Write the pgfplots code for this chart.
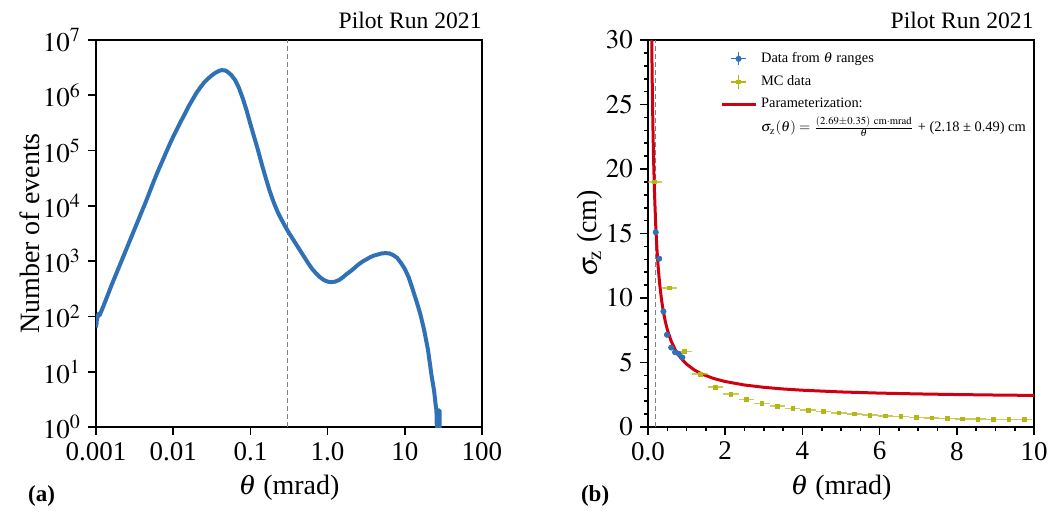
\documentclass[border=0pt]{standalone}
\usepackage{mathptmx}
\usepackage{fontspec}
\setmainfont{Liberation Serif}
\usepackage{pgfplots}
\pgfplotsset{compat=1.18}
\definecolor{cblue}{RGB}{48,113,182}
\definecolor{colive}{RGB}{180,182,20}
\definecolor{cred}{RGB}{208,0,16}
\begin{document}
\begin{tikzpicture}
\useasboundingbox (0,0) rectangle (527pt,255.5pt);
\pgfplotsset{
  every axis/.append style={
    scale only axis, width=193pt, height=193.5pt,
    axis line style={line width=0.9pt},
    tick align=outside, tick pos=left,
    major tick length=4pt, minor tick length=2pt,
    tick style={black, line width=0.8pt},
    tick label style={font=\fontsize{13.5}{14}\selectfont},
    label style={font=\fontsize{14}{16}\selectfont},
    clip mode=individual,
  }
}
% ---------------- left panel ----------------
\begin{axis}[at={(48pt,42pt)}, anchor=south west,
  xmode=log, ymode=log, log basis x=10, log basis y=10,
  xmin=0.001, xmax=100, ymin=1, ymax=1e7,
  xtick={0.001,0.01,0.1,1,10,100}, xticklabels={0.001,0.01,0.1,1.0,10,100},
  ytick={1,10,100,1000,10000,100000,1000000,10000000},
  xminorticks=false, yminorticks=false,
  xlabel={$\theta$ (mrad)}, ylabel={Number of events},
  xlabel style={at={(rel axis cs:0.5,-0.158)}, anchor=center},
  ylabel style={at={(rel axis cs:-0.171,0.5)}, anchor=center},
]
\addplot[gray, line width=0.5pt, dash pattern=on 2.5pt off 1.5pt] coordinates {(0.3,1) (0.3,1e7)};
\addplot[cblue, line width=2pt, line join=round] coordinates {
(0.001,63) (0.001008,95) (0.001016,72) (0.001025,100) (0.001035,85) (0.001047,104) (0.00106,98) (0.001072,112) (0.00109,105)
(0.001122,107.2) (0.001259,158.5) (0.001413,239.9) (0.001585,363.1) (0.001778,537) (0.001995,794.3)
(0.002239,1175) (0.002512,1738) (0.002818,2570) (0.003162,3802) (0.003548,5623) (0.003981,8318)
(0.004467,12300) (0.005012,18620) (0.005623,28180) (0.00631,41690) (0.007079,60260) (0.007943,87100)
(0.008913,125900) (0.01,177800) (0.01122,245500) (0.01259,338800) (0.01413,457100) (0.01585,631000)
(0.01778,831800) (0.01995,1096000) (0.02239,1380000) (0.02512,1698000) (0.02818,1995000) (0.03162,2291000)
(0.03548,2570000) (0.03981,2786000) (0.04266,2851000) (0.04677,2818000) (0.05012,2692000) (0.05623,2344000)
(0.0631,1905000) (0.07079,1380000) (0.07943,891300) (0.08913,537000) (0.1,302000) (0.1122,173800)
(0.1259,100000) (0.1413,54950) (0.1585,31620) (0.1778,18620) (0.1995,11750) (0.2239,7943)
(0.2512,5754) (0.2818,4266) (0.3162,3236) (0.3548,2512) (0.3981,1950) (0.4467,1514)
(0.5012,1175) (0.5623,912) (0.631,724.4) (0.7079,602.6) (0.7943,512.9) (0.8913,457.1)
(1.0,426.6) (1.122,416.9) (1.259,426.6) (1.413,457.1) (1.585,512.9) (1.778,588.8)
(1.995,660.7) (2.239,758.6) (2.512,871) (2.818,977.2) (3.162,1072) (3.548,1175)
(3.981,1259) (4.467,1318) (5.012,1380) (5.623,1396) (6.31,1380) (7.079,1288)
(7.943,1148) (8.913,933.3) (10,724.4) (11.22,512.9) (12.59,316.2) (14.13,190.5)
(15.85,112.2) (17.78,57.54) (19.95,25.12) (22.39,7.943) (23.99,4.467) (25.12,2.512)
(25.7,1.995) (26.0,1) (26.3,2) (26.61,1) (26.92,2) (27.23,1) (27.54,2) (27.86,1) (28.2,2) (28.5,0.5)
};
\node[anchor=base east, inner sep=0pt, font=\fontsize{11.8}{13}\selectfont] at (rel axis cs:1,1) [yshift=6pt] {Pilot Run 2021};
\node[anchor=center, font=\fontsize{11.5}{12}\selectfont\bfseries] at (rel axis cs:-0.141,-0.178) {(a)};
\end{axis}
% ---------------- right panel ----------------
\begin{axis}[at={(324pt,42pt)}, anchor=south west,
  xmin=0, xmax=10, ymin=0, ymax=30,
  xtick={0,2,4,6,8,10}, xticklabels={0.0,2,4,6,8,10},
  ytick={0,5,10,15,20,25,30},
  minor x tick num=3, minor y tick num=4,
  xlabel={$\theta$ (mrad)}, ylabel={$\sigma_{\mathrm{z}}$ (cm)},
  xlabel style={at={(rel axis cs:0.5,-0.158)}, anchor=center},
  ylabel style={at={(rel axis cs:-0.150,0.5)}, anchor=center},
  legend cell align=left,
  legend style={at={(rel axis cs:0.17,0.99)}, anchor=north west, draw=none, fill=none,
    font=\fontsize{7.2}{8.5}\selectfont, row sep=1pt},
]
\addlegendimage{legend image code/.code={
  \draw[cblue, line width=0.6pt] (0.3cm,-3.3pt) -- (0.3cm,3.3pt);
  \draw[cblue, line width=0.6pt] (0.3cm-3.75pt,0pt) -- (0.3cm+3.75pt,0pt);
  \fill[cblue] (0.3cm,0pt) circle (1.3pt);}}
\addlegendentry{Data from $\theta$ ranges}
\addlegendimage{legend image code/.code={
  \draw[colive, line width=0.6pt] (0.3cm,-3.3pt) -- (0.3cm,3.3pt);
  \draw[colive, line width=0.6pt] (0.3cm-3.75pt,0pt) -- (0.3cm+3.75pt,0pt);
  \fill[colive] (0.3cm-0.9pt,-0.9pt) rectangle (0.3cm+0.9pt,0.9pt);}}
\addlegendentry{MC data}
\addlegendimage{cred, line width=1.5pt}
\addlegendentry{Parameterization:}
\addlegendimage{empty legend}
\addlegendentry{\raisebox{0pt}[5.5pt][2pt]{$\sigma_{\mathrm{z}}(\theta) = \frac{(2.69\pm0.35)\ \mathrm{cm{\cdot}mrad}}{\theta}$ + (2.18 ± 0.49) cm}}

\addplot[forget plot, gray, line width=0.5pt, dash pattern=on 2.5pt off 1.5pt] coordinates {(0.2,0) (0.2,30)};
\addplot[forget plot, cred, line width=1.5pt, line join=round] coordinates {
(0.09,32.07) (0.0967,29.998) (0.1,29.08) (0.105,27.80) (0.11,26.635) (0.12,24.597) (0.13,22.872)
(0.14,21.394) (0.15,20.113) (0.17,18.004) (0.2,15.63) (0.23,13.876) (0.26,12.526) (0.3,11.147)
(0.35,9.866) (0.4,8.905) (0.45,8.158) (0.5,7.56) (0.6,6.663) (0.7,6.023) (0.8,5.5425) (0.9,5.169)
(1.0,4.87) (1.2,4.4217) (1.4,4.1014) (1.7,3.7624) (2.0,3.525) (2.5,3.256) (3.0,3.0767) (3.5,2.9486)
(4,2.8525) (5,2.718) (6,2.6283) (7,2.5643) (8,2.5163) (9,2.4789) (10,2.449)
};
\addplot[forget plot, only marks, colive, mark=square*, mark size=0.9pt,
  error bars/.cd, x dir=both, x explicit, y dir=both, y explicit,
  error bar style={colive, opacity=0.7, line width=0.8pt}, error mark=none]
coordinates {
(0.17,19.0) +- (0.2,0.08)
(0.55,10.78) +- (0.2,0.06)
(0.95,5.85) +- (0.2,0.05)
(1.35,4.10) +- (0.2,0.05)
(1.75,3.08) +- (0.2,0.05)
(2.15,2.55) +- (0.2,0.04)
(2.55,2.13) +- (0.2,0.04)
(2.95,1.81) +- (0.2,0.04)
(3.35,1.61) +- (0.2,0.04)
(3.75,1.45) +- (0.2,0.04)
(4.15,1.30) +- (0.2,0.04)
(4.55,1.19) +- (0.2,0.04)
(4.95,1.09) +- (0.2,0.04)
(5.35,1.03) +- (0.2,0.04)
(5.75,0.92) +- (0.2,0.04)
(6.15,0.85) +- (0.2,0.04)
(6.55,0.80) +- (0.2,0.04)
(6.95,0.75) +- (0.2,0.04)
(7.35,0.70) +- (0.2,0.04)
(7.75,0.67) +- (0.2,0.04)
(8.15,0.64) +- (0.2,0.04)
(8.55,0.60) +- (0.2,0.04)
(8.95,0.57) +- (0.2,0.04)
(9.35,0.57) +- (0.2,0.04)
(9.75,0.58) +- (0.2,0.04)
};
\addplot[forget plot, only marks, cblue, mark=*, mark size=1.3pt,
  error bars/.cd, x dir=both, x explicit, y dir=both, y explicit,
  error bar style={cblue, line width=0.6pt}, error mark=none]
coordinates {
(0.2,15.1) +- (0.02,0.15)
(0.29,13.05) +- (0.03,0.2)
(0.4,8.96) +- (0.02,0.12)
(0.49,7.15) +- (0.02,0.1)
(0.6,6.16) +- (0.02,0.1)
(0.7,5.80) +- (0.02,0.1)
(0.8,5.67) +- (0.02,0.1)
(0.89,5.39) +- (0.02,0.1)
};
\node[anchor=base east, inner sep=0pt, font=\fontsize{11.8}{13}\selectfont] at (rel axis cs:1,1) [yshift=6pt] {Pilot Run 2021};
\node[anchor=center, font=\fontsize{11.5}{12}\selectfont\bfseries] at (rel axis cs:-0.137,-0.178) {(b)};
\end{axis}
\end{tikzpicture}
\end{document}
